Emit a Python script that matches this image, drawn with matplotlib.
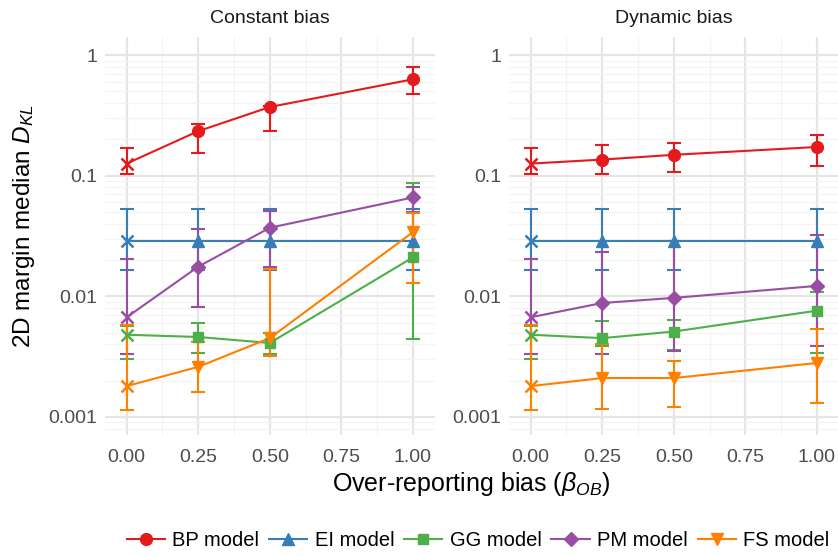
import matplotlib
matplotlib.use("Agg")
import matplotlib.pyplot as plt
from matplotlib.lines import Line2D
from matplotlib.ticker import FixedLocator, LogLocator, NullFormatter

plt.rcParams['font.family'] = ['Liberation Sans', 'DejaVu Sans']
plt.rcParams['mathtext.fontset'] = 'custom'
plt.rcParams['mathtext.rm'] = 'Liberation Sans'
plt.rcParams['mathtext.it'] = 'Liberation Sans:italic'

bias = [0.0, 0.25, 0.5, 1.0]
panels = ["Constant bias", "Dynamic bias"]
models = ["BP model", "EI model", "GG model", "PM model", "FS model"]
colors = ["#E41A1C", "#377EB8", "#4DAF4A", "#984EA3", "#FF7F00"]
markers = ["o", "^", "s", "D", "v"]
msizes = [8.5, 9, 7.5, 7, 9]

# constant bias: median and error bar limits per model
bp_c = [0.126, 0.234, 0.371, 0.63]
bp_c_lo = [0.103, 0.153, 0.234, 0.48]
bp_c_hi = [0.170, 0.268, 0.38, 0.80]
ei_c = [0.0287, 0.0287, 0.0287, 0.0287]
ei_c_lo = [0.0165, 0.0165, 0.0165, 0.0165]
ei_c_hi = [0.0527, 0.0527, 0.0527, 0.0527]
gg_c = [0.0048, 0.0046, 0.0041, 0.021]
gg_c_lo = [0.0030, 0.0034, 0.0033, 0.0044]
gg_c_hi = [0.0057, 0.0060, 0.0050, 0.087]
pm_c = [0.0067, 0.0176, 0.037, 0.066]
pm_c_lo = [0.0033, 0.0082, 0.0175, 0.050]
pm_c_hi = [0.0204, 0.036, 0.051, 0.081]
fs_c = [0.0018, 0.0026, 0.0045, 0.034]
fs_c_lo = [0.00114, 0.0016, 0.0032, 0.013]
fs_c_hi = [0.0058, 0.0042, 0.017, 0.049]

# dynamic bias
bp_d = [0.126, 0.136, 0.149, 0.173]
bp_d_lo = [0.103, 0.103, 0.107, 0.121]
bp_d_hi = [0.170, 0.180, 0.187, 0.218]
ei_d = [0.0287, 0.0287, 0.0287, 0.0287]
ei_d_lo = [0.0165, 0.0165, 0.0165, 0.0165]
ei_d_hi = [0.0527, 0.0527, 0.0527, 0.0527]
gg_d = [0.0048, 0.0045, 0.0051, 0.0076]
gg_d_lo = [0.0030, 0.0039, 0.0036, 0.0034]
gg_d_hi = [0.0057, 0.0063, 0.0064, 0.0109]
pm_d = [0.0067, 0.0088, 0.0097, 0.0122]
pm_d_lo = [0.0033, 0.0033, 0.0035, 0.0039]
pm_d_hi = [0.0204, 0.0234, 0.029, 0.032]
fs_d = [0.0018, 0.0021, 0.0021, 0.0028]
fs_d_lo = [0.00114, 0.00117, 0.00121, 0.0013]
fs_d_hi = [0.0058, 0.0040, 0.0029, 0.0054]

data = {
    "Constant bias": [(bp_c, bp_c_lo, bp_c_hi), (ei_c, ei_c_lo, ei_c_hi),
                      (gg_c, gg_c_lo, gg_c_hi), (pm_c, pm_c_lo, pm_c_hi),
                      (fs_c, fs_c_lo, fs_c_hi)],
    "Dynamic bias": [(bp_d, bp_d_lo, bp_d_hi), (ei_d, ei_d_lo, ei_d_hi),
                     (gg_d, gg_d_lo, gg_d_hi), (pm_d, pm_d_lo, pm_d_hi),
                     (fs_d, fs_d_lo, fs_d_hi)],
}

W, H = 838, 556
fig = plt.figure(figsize=(W / 100, H / 100), dpi=100)

lefts = [104.5, 508.5]
top, bottom = 37, 435
pw = 330.5

for i, name in enumerate(panels):
    ax = fig.add_axes([lefts[i] / W, 1 - bottom / H, pw / W, (bottom - top) / H])
    ax.set_yscale("log")
    ax.set_ylim(10 ** -3.15, 10 ** 0.15)
    ax.set_xlim(-0.0775, 1.0775)
    for s in ax.spines.values():
        s.set_visible(False)

    ax.xaxis.set_major_locator(FixedLocator([0, 0.25, 0.5, 0.75, 1.0]))
    ax.xaxis.set_minor_locator(FixedLocator([0.125, 0.375, 0.625, 0.875]))
    ax.set_xticklabels(["0.00", "0.25", "0.50", "0.75", "1.00"])
    ax.yaxis.set_major_locator(FixedLocator([0.001, 0.01, 0.1, 1]))
    ax.yaxis.set_minor_locator(LogLocator(base=10, subs=range(2, 10)))
    ax.yaxis.set_minor_formatter(NullFormatter())
    ax.set_yticklabels(["0.001", "0.01", "0.1", "1"])
    ax.tick_params(which="both", length=0, labelsize=14, labelcolor="#4D4D4D")
    ax.tick_params(axis="x", pad=10)
    ax.tick_params(axis="y", pad=5)
    ax.grid(which="major", color="#E5E5E5", linewidth=1.6)
    ax.grid(which="minor", color="#F3F3F3", linewidth=0.8)
    ax.set_axisbelow(True)
    ax.set_title(name, fontsize=14, color="#1A1A1A", pad=10)

    series = data[name]
    # error bars first, then lines, then points
    for (y, lo, hi), c in zip(series, colors):
        err = [[v - l for v, l in zip(y, lo)], [h - v for v, h in zip(y, hi)]]
        ax.errorbar(bias, y, yerr=err, fmt="none", ecolor=c, elinewidth=1.5,
                    capsize=5, capthick=1.5)
    for (y, lo, hi), c in zip(series, colors):
        ax.plot(bias, y, color=c, linewidth=1.5)
    for (y, lo, hi), c, m, ms in zip(series, colors, markers, msizes):
        ax.plot(bias[1:], y[1:], linestyle="none", marker=m, markersize=ms,
                color=c)
        ax.plot(bias[:1], y[:1], linestyle="none", marker="x", markersize=8,
                markeredgewidth=1.8, color=c)

fig.text(471 / W, 1 - 484 / H, r"Over-reporting bias ($\beta_{OB}$)",
         ha="center", va="center", fontsize=18)
fig.text(24 / W, 1 - 226 / H, r"2D margin median $D_{KL}$", rotation=90,
         ha="center", va="center", fontsize=17.5)

handles = [Line2D([0], [0], color=c, marker=m, markersize=ms, linewidth=1.5)
           for c, m, ms in zip(colors, markers, msizes)]
fig.legend(handles, models, loc="center", bbox_to_anchor=(478 / W, 1 - 541 / H),
           ncol=5, frameon=False, fontsize=14.5, handlelength=1.9,
           handletextpad=0.35, columnspacing=0.5, borderpad=0.1)

fig.savefig("out.png", dpi=100)
